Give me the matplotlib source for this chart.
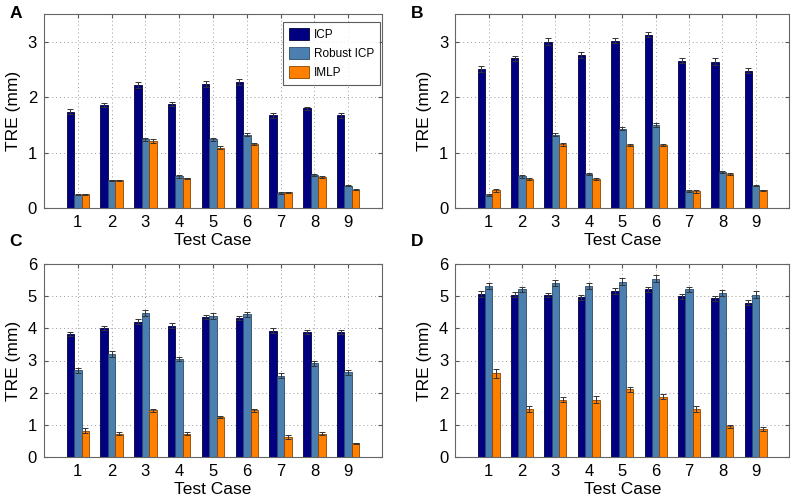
import matplotlib
matplotlib.use("Agg")
import matplotlib.pyplot as plt
import numpy as np

plt.rcParams['font.family'] = ['Liberation Sans', 'DejaVu Sans']

cases = [1, 2, 3, 4, 5, 6, 7, 8, 9]
series = ["ICP", "Robust ICP", "IMLP"]

A_icp = [1.74, 1.86, 2.22, 1.88, 2.24, 2.27, 1.67, 1.80, 1.67]
A_rob = [0.24, 0.50, 1.24, 0.57, 1.24, 1.32, 0.27, 0.59, 0.40]
A_imlp = [0.25, 0.50, 1.21, 0.54, 1.09, 1.15, 0.28, 0.56, 0.33]
A_icp_err = [0.04, 0.03, 0.05, 0.04, 0.05, 0.05, 0.04, 0.03, 0.04]
A_rob_err = [0.01, 0.01, 0.03, 0.02, 0.03, 0.03, 0.01, 0.02, 0.01]
A_imlp_err = [0.01, 0.01, 0.03, 0.01, 0.02, 0.02, 0.01, 0.01, 0.01]

B_icp = [2.51, 2.70, 3.00, 2.76, 3.02, 3.13, 2.66, 2.64, 2.48]
B_rob = [0.235, 0.57, 1.32, 0.62, 1.43, 1.50, 0.30, 0.65, 0.40]
B_imlp = [0.32, 0.53, 1.15, 0.52, 1.13, 1.13, 0.30, 0.61, 0.32]
B_icp_err = [0.05, 0.05, 0.06, 0.05, 0.05, 0.05, 0.04, 0.06, 0.05]
B_rob_err = [0.02, 0.03, 0.03, 0.02, 0.03, 0.03, 0.02, 0.02, 0.01]
B_imlp_err = [0.03, 0.02, 0.03, 0.02, 0.02, 0.02, 0.03, 0.02, 0.01]

C_icp = [3.82, 4.00, 4.20, 4.08, 4.34, 4.31, 3.93, 3.88, 3.88]
C_rob = [2.69, 3.21, 4.47, 3.05, 4.38, 4.44, 2.53, 2.91, 2.63]
C_imlp = [0.82, 0.73, 1.45, 0.73, 1.23, 1.45, 0.63, 0.73, 0.42]
C_icp_err = [0.06, 0.06, 0.08, 0.08, 0.06, 0.06, 0.08, 0.06, 0.06]
C_rob_err = [0.07, 0.09, 0.10, 0.07, 0.10, 0.08, 0.08, 0.08, 0.07]
C_imlp_err = [0.08, 0.05, 0.05, 0.05, 0.03, 0.05, 0.06, 0.04, 0.03]

D_icp = [5.06, 5.04, 5.04, 4.96, 5.16, 5.21, 4.99, 4.93, 4.80]
D_rob = [5.32, 5.22, 5.42, 5.31, 5.45, 5.54, 5.22, 5.09, 5.05]
D_imlp = [2.60, 1.50, 1.78, 1.78, 2.10, 1.88, 1.50, 0.95, 0.87]
D_icp_err = [0.10, 0.08, 0.07, 0.09, 0.08, 0.09, 0.08, 0.08, 0.08]
D_rob_err = [0.09, 0.08, 0.09, 0.09, 0.10, 0.11, 0.08, 0.09, 0.10]
D_imlp_err = [0.13, 0.10, 0.07, 0.11, 0.09, 0.08, 0.10, 0.05, 0.07]

colors = ["#000080", "#4a7fb0", "#ff8000"]
edges = ["#00003a", "#2c4a66", "#8a4500"]

fig = plt.figure(figsize=(8, 5), dpi=100)

panels = [
    ("A", [0.055, 0.584, 0.4225, 0.388], (A_icp, A_rob, A_imlp), (A_icp_err, A_rob_err, A_imlp_err), 3.5, [0, 1, 2, 3], (0.012, 0.972)),
    ("B", [0.569, 0.584, 0.4175, 0.388], (B_icp, B_rob, B_imlp), (B_icp_err, B_rob_err, B_imlp_err), 3.5, [0, 1, 2, 3], (0.514, 0.972)),
    ("C", [0.055, 0.086, 0.4225, 0.386], (C_icp, C_rob, C_imlp), (C_icp_err, C_rob_err, C_imlp_err), 6, [0, 1, 2, 3, 4, 5, 6], (0.012, 0.518)),
    ("D", [0.569, 0.086, 0.4175, 0.386], (D_icp, D_rob, D_imlp), (D_icp_err, D_rob_err, D_imlp_err), 6, [0, 1, 2, 3, 4, 5, 6], (0.514, 0.518)),
]

x = np.array(cases, dtype=float)
w = 0.22
offsets = [-w, 0.0, w]

for label, pos, vals, errs, ymax, yticks, lpos in panels:
    ax = fig.add_axes(pos)
    ax.set_axisbelow(True)
    ax.grid(True, linestyle=(0, (1, 3)), color="#9a9a9a", linewidth=0.7)
    for i in range(3):
        ax.bar(x + offsets[i], vals[i], width=w, color=colors[i], edgecolor=edges[i],
               linewidth=0.6, label=series[i], zorder=2)
        ax.errorbar(x + offsets[i], vals[i], yerr=errs[i], fmt="none", ecolor="#333333",
                    elinewidth=0.7, capsize=2.2, capthick=0.7, zorder=3)
    ax.set_xlim(0, 10)
    ax.set_ylim(0, ymax)
    ax.set_xticks(cases)
    ax.set_yticks(yticks)
    ax.tick_params(direction="in", top=True, right=True, labelsize=12, length=3,
                   color="#555555", pad=5)
    for s in ax.spines.values():
        s.set_color("#666666")
        s.set_linewidth(0.8)
    ax.set_xlabel("Test Case", fontsize=12.5, labelpad=2)
    ax.set_ylabel("TRE (mm)", fontsize=12.5, labelpad=5)
    fig.text(lpos[0], lpos[1], label, fontsize=12.5, fontweight="bold", va="center", ha="left")
    if label == "A":
        leg = ax.legend(loc="upper right", fontsize=8.5, frameon=True, fancybox=False,
                        edgecolor="#333333", handlelength=1.7, handleheight=1.25,
                        borderpad=0.5, labelspacing=0.5, handletextpad=0.4,
                        borderaxespad=0.0, bbox_to_anchor=(0.994, 0.96))
        leg.get_frame().set_linewidth(0.8)

fig.savefig("out.png", dpi=100)
